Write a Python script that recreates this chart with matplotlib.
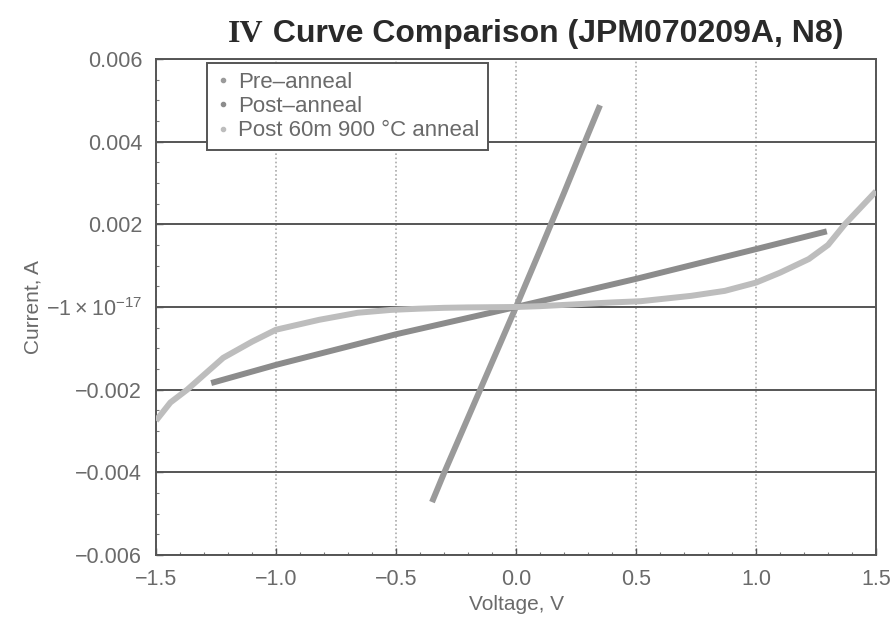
import numpy as np
import matplotlib.pyplot as plt
from matplotlib.lines import Line2D
from matplotlib.ticker import FixedLocator, FixedFormatter, MultipleLocator

plt.rcParams['font.family'] = ['Liberation Sans', 'DejaVu Sans']
plt.rcParams['mathtext.default'] = 'regular'

# IV data (voltage in V, current in mA)
v_pre = [-0.35, -0.30, -0.20, -0.10, 0.0, 0.10, 0.20, 0.30, 0.35]
i_pre = [-4.72, -4.02, -2.68, -1.34, 0.0, 1.37, 2.76, 4.18, 4.88]

v_post = [-1.27, -1.0, -0.5, 0.0, 0.5, 1.0, 1.295]
i_post = [-1.84, -1.40, -0.66, 0.0, 0.68, 1.40, 1.83]

v_900 = [-1.50, -1.44, -1.37, -1.30, -1.22, -1.10, -1.00, -0.82, -0.66, -0.52,
         -0.40, -0.30, -0.20, -0.10, 0.00, 0.10, 0.20, 0.30, 0.40, 0.52,
         0.73, 0.87, 1.00, 1.10, 1.22, 1.30, 1.37, 1.44, 1.50]
i_900 = [-2.75, -2.31, -2.00, -1.64, -1.23, -0.84, -0.55, -0.31, -0.14, -0.07,
         -0.04, -0.02, -0.01, -0.005, 0.0, 0.02, 0.05, 0.08, 0.11, 0.14,
         0.27, 0.39, 0.59, 0.83, 1.16, 1.50, 2.00, 2.43, 2.80]

labels = ['Pre\u2013anneal', 'Post\u2013anneal', 'Post 60m 900 \u00b0C anneal']
colors = ['#9a9a9a', '#8c8c8c', '#bdbdbd']

y_ticks = [-0.006, -0.004, -0.002, 0.0, 0.002, 0.004, 0.006]
y_ticklabels = ['\u22120.006', '\u22120.004', '\u22120.002', r'$-1\times10^{-17}$',
                '0.002', '0.004', '0.006']
x_ticks = [-1.5, -1.0, -0.5, 0.0, 0.5, 1.0, 1.5]
x_ticklabels = ['\u22121.5', '\u22121.0', '\u22120.5', '0.0', '0.5', '1.0', '1.5']

fig = plt.figure(figsize=(8.95, 6.22), dpi=100)
ax = fig.add_axes([0.1743, 0.1077, 0.8045, 0.7975])

series = [(v_pre, i_pre), (v_post, i_post), (v_900, i_900)]
for (v, i), c in zip(series, colors):
    ax.plot(v, np.array(i) / 1000, color=c, lw=4.3, solid_capstyle='butt',
            solid_joinstyle='round', zorder=3)

ax.set_xlim(-1.5, 1.5)
ax.set_ylim(-0.006, 0.006)

ax.yaxis.set_major_locator(FixedLocator(y_ticks))
ax.yaxis.set_major_formatter(FixedFormatter(y_ticklabels))
ax.xaxis.set_major_locator(FixedLocator(x_ticks))
ax.xaxis.set_major_formatter(FixedFormatter(x_ticklabels))
ax.xaxis.set_minor_locator(MultipleLocator(0.1))
ax.yaxis.set_minor_locator(MultipleLocator(0.0005))

# horizontal grid solid and dark, vertical grid dotted and light
ax.grid(axis='y', color='#555555', lw=1.4, zorder=1)
ax.grid(axis='x', color='#aaaaaa', lw=1.2, ls=(0, (1, 1.5)), zorder=1)

for s in ax.spines.values():
    s.set_color('#555555')
    s.set_linewidth(1.4)

ax.tick_params(which='major', direction='in', length=5, width=1, colors='#555555',
               labelcolor='#6a6a6a', labelsize=15.5, pad=10)
ax.tick_params(which='minor', direction='in', length=2.5, width=0.8, colors='#777777')

ax.set_xlabel('Voltage, V', fontsize=15, color='#6a6a6a', labelpad=4)
ax.set_ylabel('Current, A', fontsize=15, color='#6a6a6a', labelpad=2)

# title: "IV" set in a serif face, the rest in sans
fig.canvas.draw()
renderer = fig.canvas.get_renderer()
t1 = fig.text(228 / 895, 1 - 42 / 622, 'IV', family='Liberation Serif',
              fontsize=23, fontweight='bold', color='#2a2a2a', ha='left', va='baseline')
bb = t1.get_window_extent(renderer)
fig.text(bb.x1 / fig.bbox.width, 1 - 42 / 622, ' Curve Comparison (JPM070209A, N8)',
         fontsize=23, fontweight='bold', color='#2a2a2a', ha='left', va='baseline')

handles = [Line2D([], [], ls='none', marker='o', ms=3, color=c) for c in colors]
leg = ax.legend(handles, labels, loc='upper left', bbox_to_anchor=(0.071, 0.992),
                borderaxespad=0, fontsize=16, labelspacing=0.15, handlelength=0.6,
                handletextpad=0.4, borderpad=0.4, fancybox=False, framealpha=1,
                edgecolor='#555555', labelcolor='#6a6a6a')
leg.get_frame().set_linewidth(1.4)
leg.set_zorder(5)

fig.savefig('out.png', dpi=100)
